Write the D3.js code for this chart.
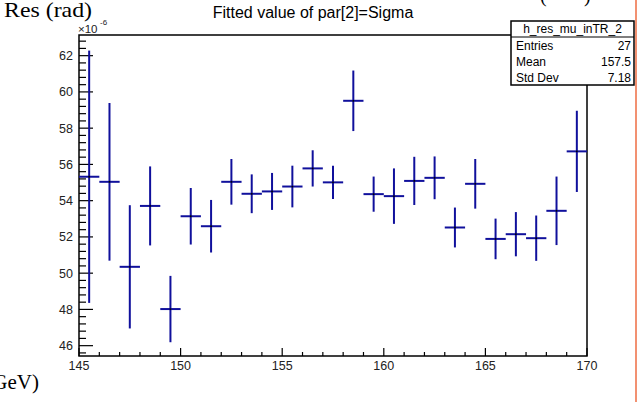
<!doctype HTML>
<html>
<head>
    <script src="https://d3js.org/d3.v7.min.js"></script>
    <style>
        body { margin: 0; background: #ffffff; }
        text { font-family: "Liberation Sans", Arial, sans-serif; }
    </style>
</head>
<body>
<script>

    // bin centres (x), fitted sigma values and errors (units of 1e-6 rad)
    var binCenters = [145.5, 146.5, 147.5, 148.5, 149.5, 150.5, 151.5, 152.5, 153.5, 154.5,
        155.5, 156.5, 157.5, 158.5, 159.5, 160.5, 161.5, 162.5, 163.5, 164.5,
        165.5, 166.5, 167.5, 168.5, 169.5];
    var sigmaValues = [55.32, 55.04, 50.35, 53.71, 48.02, 53.14, 52.59, 55.04, 54.38, 54.51,
        54.78, 55.78, 55.01, 59.51, 54.36, 54.25, 55.09, 55.26, 52.52, 54.93,
        51.89, 52.15, 51.93, 53.44, 56.72];
    var sigmaErrors = [6.96, 4.35, 3.40, 2.18, 1.83, 1.56, 1.45, 1.26, 1.07, 1.02,
        1.15, 1.00, 0.92, 1.67, 0.97, 1.53, 1.33, 1.18, 1.10, 1.37,
        1.12, 1.22, 1.25, 1.89, 2.24];
    var binWidth = 1;

    var xTickLabels = [145, 150, 155, 160, 165, 170];
    var yTickLabels = [46, 48, 50, 52, 54, 56, 58, 60, 62];

    var statsTitle = "h_res_mu_inTR_2";
    var statsRows = [["Entries", "27"], ["Mean", "157.5"], ["Std Dev", "7.18"]];

    var width = 640, height = 403;
    var frame = {left: 79, right: 587, top: 35, bottom: 356};

    var svg = d3.select("body")
        .append("svg")
        .attr("width", width)
        .attr("height", height);

    var x = d3.scaleLinear()
        .domain([145, 170])
        .range([frame.left, frame.right]);

    var y = d3.scaleLinear()
        .domain([45.43, 63.14])
        .range([frame.bottom, frame.top]);

    // frame
    svg.append("rect")
        .attr("x", frame.left)
        .attr("y", frame.top)
        .attr("width", frame.right - frame.left)
        .attr("height", frame.bottom - frame.top)
        .attr("fill", "none")
        .attr("stroke", "#000")
        .attr("stroke-width", 1.5);

    // x axis: major ticks every 5, minor every 1 (pointing up)
    var xMinor = d3.range(146, 170, 1).filter(function (v) { return v % 5 !== 0; });
    svg.append("g")
        .selectAll("line")
        .data(xMinor)
        .enter()
        .append("line")
        .attr("x1", function (d) { return x(d); })
        .attr("x2", function (d) { return x(d); })
        .attr("y1", frame.bottom)
        .attr("y2", frame.bottom - 4)
        .attr("stroke", "#000")
        .attr("stroke-width", 1.2);

    svg.append("g")
        .selectAll("line")
        .data(xTickLabels)
        .enter()
        .append("line")
        .attr("x1", function (d) { return x(d); })
        .attr("x2", function (d) { return x(d); })
        .attr("y1", frame.bottom)
        .attr("y2", frame.bottom - 8)
        .attr("stroke", "#000")
        .attr("stroke-width", 1.2);

    svg.append("g")
        .selectAll("text")
        .data(xTickLabels)
        .enter()
        .append("text")
        .attr("x", function (d) { return x(d); })
        .attr("y", 370)
        .attr("text-anchor", "middle")
        .attr("font-size", "12.5px")
        .attr("fill", "#222")
        .text(function (d) { return d; });

    // y axis: major every 2, minor every 0.4
    var yMinor = d3.range(0, 45).map(function (i) { return 45.6 + i * 0.4; })
        .filter(function (v) { return v <= 63.1 && Math.abs(v / 2 - Math.round(v / 2)) > 0.01; });
    svg.append("g")
        .selectAll("line")
        .data(yMinor)
        .enter()
        .append("line")
        .attr("x1", frame.left)
        .attr("x2", frame.left + 7)
        .attr("y1", function (d) { return y(d); })
        .attr("y2", function (d) { return y(d); })
        .attr("stroke", "#000")
        .attr("stroke-width", 1.2);

    svg.append("g")
        .selectAll("line")
        .data(yTickLabels)
        .enter()
        .append("line")
        .attr("x1", frame.left)
        .attr("x2", frame.left + 14)
        .attr("y1", function (d) { return y(d); })
        .attr("y2", function (d) { return y(d); })
        .attr("stroke", "#000")
        .attr("stroke-width", 1.2);

    svg.append("g")
        .selectAll("text")
        .data(yTickLabels)
        .enter()
        .append("text")
        .attr("x", 73)
        .attr("y", function (d) { return y(d) + 4.5; })
        .attr("text-anchor", "end")
        .attr("font-size", "12.5px")
        .attr("fill", "#222")
        .text(function (d) { return d; });

    // x10^-6 multiplier
    svg.append("text")
        .attr("x", 78)
        .attr("y", 33)
        .attr("font-size", "11.5px")
        .attr("fill", "#222")
        .text("\u00d710");
    svg.append("text")
        .attr("x", 100)
        .attr("y", 25)
        .attr("font-size", "8px")
        .attr("fill", "#222")
        .text("-6");

    // error bars (vertical + horizontal bin width)
    var points = binCenters.map(function (c, i) {
        return {x: c, v: sigmaValues[i], e: sigmaErrors[i]};
    });
    var bars = svg.append("g");
    bars.selectAll(".vbar")
        .data(points)
        .enter()
        .append("line")
        .attr("class", "vbar")
        .attr("x1", function (d) { return x(d.x); })
        .attr("x2", function (d) { return x(d.x); })
        .attr("y1", function (d) { return y(d.v + d.e); })
        .attr("y2", function (d) { return y(d.v - d.e); })
        .attr("stroke", "#10109c")
        .attr("stroke-width", 2);
    bars.selectAll(".hbar")
        .data(points)
        .enter()
        .append("line")
        .attr("class", "hbar")
        .attr("x1", function (d) { return x(d.x - binWidth / 2); })
        .attr("x2", function (d) { return x(d.x + binWidth / 2); })
        .attr("y1", function (d) { return y(d.v); })
        .attr("y2", function (d) { return y(d.v); })
        .attr("stroke", "#10109c")
        .attr("stroke-width", 2);
    bars.selectAll("circle")
        .data(points)
        .enter()
        .append("circle")
        .attr("cx", function (d) { return x(d.x); })
        .attr("cy", function (d) { return y(d.v); })
        .attr("r", 0.9)
        .attr("fill", "#000");

    // title
    svg.append("text")
        .attr("x", 313)
        .attr("y", 18)
        .attr("text-anchor", "middle")
        .attr("font-size", "16px")
        .attr("fill", "#000")
        .text("Fitted value of par[2]=Sigma");

    // axis titles (serif, partly cut off at canvas edges as in the original)
    svg.append("text")
        .attr("x", 4)
        .attr("y", 17)
        .attr("font-size", "21px")
        .attr("textLength", 88)
        .attr("lengthAdjust", "spacingAndGlyphs")
        .attr("fill", "#000")
        .style("font-family", "'Liberation Serif', serif")
        .text("Res (rad)");

    svg.append("text")
        .attr("x", 39)
        .attr("y", 389)
        .attr("text-anchor", "end")
        .attr("font-size", "21px")
        .attr("fill", "#000")
        .style("font-family", "'Liberation Serif', serif")
        .text("p (GeV)");

    svg.append("text")
        .attr("x", 540)
        .attr("y", 2)
        .attr("font-size", "20px")
        .attr("fill", "#000")
        .style("font-family", "'Liberation Serif', serif")
        .text("(");
    svg.append("text")
        .attr("x", 584)
        .attr("y", 2)
        .attr("font-size", "20px")
        .attr("fill", "#000")
        .style("font-family", "'Liberation Serif', serif")
        .text(")");

    // stats box
    var box = {x: 511, y: 21, w: 123, h: 64};
    svg.append("rect")
        .attr("x", box.x)
        .attr("y", box.y)
        .attr("width", box.w)
        .attr("height", box.h)
        .attr("fill", "#fff")
        .attr("stroke", "#000")
        .attr("stroke-width", 1.5);
    svg.append("line")
        .attr("x1", box.x)
        .attr("x2", box.x + box.w)
        .attr("y1", 37)
        .attr("y2", 37)
        .attr("stroke", "#000")
        .attr("stroke-width", 1.2);
    svg.append("text")
        .attr("x", box.x + box.w / 2)
        .attr("y", 33)
        .attr("text-anchor", "middle")
        .attr("font-size", "12px")
        .attr("fill", "#000")
        .text(statsTitle);

    var rowY = [51, 67, 83];
    statsRows.forEach(function (r, i) {
        svg.append("text")
            .attr("x", 516)
            .attr("y", rowY[i] - 1)
            .attr("font-size", "12px")
            .attr("fill", "#000")
            .text(r[0]);
        svg.append("text")
            .attr("x", 631)
            .attr("y", rowY[i] - 1)
            .attr("text-anchor", "end")
            .attr("font-size", "12px")
            .attr("fill", "#000")
            .text(r[1]);
    });

    // orange edge line on the right
    svg.append("line")
        .attr("x1", 636)
        .attr("x2", 636)
        .attr("y1", 0)
        .attr("y2", 402)
        .attr("stroke", "#ee6d42")
        .attr("stroke-width", 1.5);

</script>
</body>
</html>
